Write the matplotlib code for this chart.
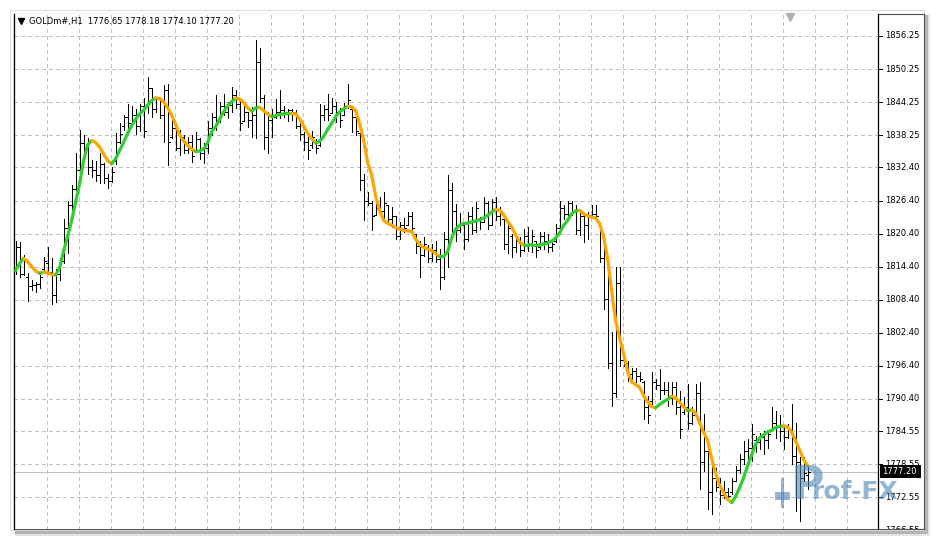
import numpy as np
import matplotlib
matplotlib.use("Agg")
import matplotlib.pyplot as plt
from matplotlib.collections import LineCollection
from matplotlib.patches import Rectangle

# Datos del gráfico (GOLDm#, H1)
titulo = "GOLDm#,H1  1776.65 1778.18 1774.10 1777.20"

aperturas = [
    1814.0, 1818.0, 1813.0, 1812.5, 1810.8, 1811.0, 1811.3, 1814.0, 1815.0, 1813.5,
    1809.2, 1813.0, 1815.5, 1821.5, 1825.5, 1828.5, 1831.9, 1836.8, 1836.0, 1832.5,
    1832.0, 1831.0, 1833.0, 1830.5, 1830.0, 1833.5, 1837.0, 1840.0, 1841.5, 1840.5,
    1842.0, 1840.0, 1843.5, 1844.0, 1846.8, 1843.0, 1844.8, 1842.0, 1846.5, 1838.0,
    1839.5, 1836.0, 1838.0, 1835.5, 1837.0, 1835.5, 1837.5, 1835.0, 1836.0, 1839.5,
    1841.5, 1840.8, 1843.5, 1842.5, 1843.8, 1845.5, 1844.0, 1840.8, 1842.5, 1841.0,
    1842.0, 1851.6, 1845.0, 1838.0, 1841.0, 1841.5, 1842.5, 1842.8, 1842.5, 1842.8,
    1842.5, 1840.0, 1838.5, 1837.0, 1836.5, 1837.0, 1836.5, 1842.0, 1843.0, 1842.2,
    1843.5, 1842.5, 1841.9, 1843.5, 1843.0, 1841.5, 1838.6, 1830.1, 1826.4, 1826.0,
    1823.7, 1825.0, 1824.5, 1825.5, 1823.0, 1823.5, 1820.0, 1822.0, 1822.0, 1823.5,
    1820.4, 1818.2, 1816.5, 1818.0, 1816.0, 1817.5, 1815.8, 1812.5, 1819.5, 1828.3,
    1824.5, 1821.0, 1822.0, 1819.5, 1823.5, 1821.0, 1823.0, 1822.5, 1826.0, 1822.0,
    1826.2, 1823.5, 1823.0, 1818.5, 1820.0, 1818.0, 1819.0, 1817.5, 1820.0, 1818.5,
    1819.1, 1818.0, 1820.0, 1819.0, 1818.0, 1819.0, 1821.5, 1825.0, 1824.0, 1826.0,
    1824.5, 1821.0, 1823.5, 1822.0, 1823.8, 1824.0, 1822.5, 1816.0, 1808.5, 1797.0,
    1791.5, 1811.5, 1797.5, 1797.0, 1795.0, 1795.5, 1794.5, 1793.5, 1789.0, 1790.0,
    1793.5, 1793.0, 1792.0, 1792.0, 1790.5, 1792.5, 1789.0, 1788.0, 1789.0, 1786.0,
    1788.0, 1791.5, 1779.0, 1781.0, 1773.5, 1776.0, 1774.5, 1773.0, 1773.5, 1773.5,
    1775.5, 1777.5, 1779.5, 1781.0, 1781.5, 1783.0, 1782.5, 1783.5, 1783.0, 1785.0,
    1786.0, 1785.5, 1784.5, 1783.5, 1785.0, 1780.0, 1779.0, 1776.0, 1776.65,
]
maximos = [
    1819.0, 1818.8, 1816.5, 1813.2, 1812.0, 1811.6, 1813.3, 1816.1, 1817.9, 1815.9,
    1814.0, 1816.0, 1823.1, 1826.4, 1829.2, 1835.0, 1839.2, 1838.2, 1837.7, 1833.7,
    1833.5, 1835.0, 1833.2, 1831.3, 1832.5, 1838.6, 1840.4, 1841.9, 1844.0, 1843.5,
    1843.0, 1844.0, 1845.0, 1848.9, 1846.8, 1845.1, 1844.8, 1847.3, 1847.6, 1841.0,
    1839.8, 1839.2, 1838.2, 1838.0, 1838.3, 1838.9, 1837.7, 1836.8, 1840.9, 1842.2,
    1845.5, 1844.3, 1845.8, 1844.3, 1847.0, 1846.4, 1844.9, 1843.5, 1842.5, 1843.4,
    1855.5, 1854.1, 1845.5, 1842.5, 1843.0, 1844.9, 1846.4, 1843.5, 1843.0, 1843.0,
    1842.8, 1840.4, 1838.9, 1838.6, 1839.0, 1837.6, 1844.0, 1843.7, 1845.8, 1845.0,
    1844.3, 1843.2, 1844.1, 1847.5, 1843.4, 1842.5, 1838.6, 1831.3, 1827.9, 1826.4,
    1826.4, 1827.0, 1827.9, 1825.5, 1825.2, 1823.6, 1822.5, 1823.2, 1824.4, 1824.3,
    1820.4, 1819.1, 1819.7, 1818.3, 1818.6, 1819.1, 1817.6, 1820.7, 1831.0, 1829.5,
    1825.8, 1824.1, 1822.5, 1824.3, 1825.2, 1826.1, 1823.4, 1827.0, 1826.4, 1826.7,
    1827.0, 1825.2, 1823.1, 1822.5, 1820.4, 1820.1, 1819.7, 1821.3, 1821.6, 1821.0,
    1819.1, 1820.7, 1820.7, 1820.4, 1819.5, 1822.2, 1826.4, 1825.5, 1826.4, 1826.4,
    1825.5, 1824.3, 1824.0, 1824.3, 1825.5, 1825.5, 1822.5, 1818.9, 1814.3, 1802.5,
    1814.3, 1814.3, 1797.7, 1797.3, 1796.1, 1796.1, 1795.2, 1793.7, 1791.0, 1795.2,
    1794.0, 1795.8, 1793.4, 1793.4, 1793.4, 1793.4, 1791.9, 1790.7, 1793.1, 1788.9,
    1793.1, 1793.4, 1787.6, 1782.8, 1779.2, 1777.9, 1776.1, 1775.5, 1774.3, 1776.1,
    1778.3, 1780.4, 1782.8, 1783.1, 1785.8, 1783.7, 1784.3, 1784.6, 1784.6, 1788.9,
    1788.3, 1787.4, 1785.5, 1785.8, 1789.5, 1786.1, 1779.8, 1779.8, 1778.18,
]
minimos = [
    1813.0, 1812.5, 1812.8, 1808.2, 1810.2, 1809.8, 1810.5, 1813.7, 1813.1, 1807.7,
    1808.0, 1812.0, 1815.0, 1816.8, 1822.8, 1828.3, 1831.9, 1834.3, 1831.3, 1830.6,
    1830.0, 1829.5, 1829.5, 1828.6, 1829.8, 1833.1, 1836.8, 1839.2, 1838.5, 1840.0,
    1838.5, 1839.0, 1838.0, 1842.2, 1841.6, 1842.4, 1841.3, 1837.0, 1832.8, 1837.7,
    1835.5, 1834.6, 1835.0, 1835.0, 1833.4, 1835.2, 1834.0, 1833.2, 1835.0, 1838.3,
    1839.2, 1840.7, 1841.9, 1841.3, 1842.5, 1843.2, 1839.2, 1840.8, 1839.8, 1838.0,
    1837.7, 1844.3, 1835.8, 1835.0, 1838.0, 1841.3, 1841.3, 1841.5, 1840.8, 1841.0,
    1839.5, 1837.3, 1835.5, 1834.0, 1836.0, 1835.1, 1836.2, 1841.0, 1841.0, 1842.2,
    1840.7, 1839.8, 1841.9, 1843.1, 1838.9, 1838.3, 1828.3, 1822.8, 1825.5, 1821.0,
    1823.7, 1824.3, 1822.8, 1822.5, 1821.6, 1819.5, 1819.5, 1820.7, 1821.9, 1820.4,
    1816.8, 1812.5, 1816.4, 1815.2, 1815.5, 1815.2, 1810.4, 1812.2, 1814.3, 1820.4,
    1819.1, 1820.7, 1817.6, 1819.1, 1820.4, 1820.7, 1821.3, 1822.5, 1821.3, 1822.0,
    1822.8, 1821.9, 1817.6, 1816.8, 1816.1, 1817.1, 1816.4, 1817.3, 1817.3, 1817.0,
    1816.1, 1817.6, 1817.6, 1817.1, 1817.3, 1818.9, 1820.7, 1823.1, 1823.4, 1823.7,
    1820.4, 1820.1, 1818.9, 1819.5, 1823.4, 1823.0, 1815.2, 1806.8, 1796.1, 1789.2,
    1790.7, 1796.4, 1796.4, 1793.7, 1794.0, 1793.4, 1793.7, 1786.8, 1786.1, 1789.5,
    1792.2, 1790.4, 1791.3, 1789.2, 1789.5, 1787.6, 1783.4, 1787.6, 1784.9, 1785.8,
    1787.6, 1774.0, 1777.3, 1770.4, 1769.5, 1773.7, 1771.3, 1772.5, 1772.5, 1773.1,
    1775.5, 1776.9, 1778.6, 1779.2, 1779.2, 1780.7, 1781.3, 1780.4, 1781.5, 1784.9,
    1783.4, 1782.8, 1781.3, 1783.4, 1778.6, 1770.1, 1768.3, 1775.5, 1774.10,
]
cierres = [
    1818.0, 1813.0, 1815.8, 1810.8, 1811.0, 1811.3, 1812.5, 1815.5, 1813.5, 1809.2,
    1813.0, 1815.5, 1821.5, 1825.5, 1828.5, 1831.9, 1836.8, 1836.0, 1832.5, 1832.0,
    1831.0, 1833.0, 1830.5, 1830.0, 1831.5, 1837.0, 1838.5, 1841.5, 1840.5, 1842.0,
    1840.0, 1843.5, 1839.0, 1846.8, 1843.0, 1844.8, 1842.0, 1846.5, 1837.0, 1839.5,
    1836.0, 1838.0, 1835.5, 1837.0, 1834.5, 1837.5, 1835.0, 1836.0, 1839.5, 1841.5,
    1840.5, 1843.5, 1842.5, 1843.8, 1845.5, 1844.0, 1840.5, 1842.5, 1841.0, 1842.0,
    1851.6, 1845.0, 1838.0, 1841.0, 1841.5, 1842.5, 1842.8, 1842.5, 1842.8, 1842.5,
    1840.0, 1838.5, 1837.0, 1835.5, 1838.0, 1836.0, 1842.0, 1843.0, 1842.0, 1843.5,
    1842.5, 1841.0, 1843.5, 1844.6, 1841.5, 1839.0, 1830.1, 1826.4, 1826.0, 1823.5,
    1825.0, 1824.5, 1826.0, 1823.0, 1823.5, 1820.0, 1822.0, 1821.5, 1823.5, 1821.5,
    1818.2, 1816.5, 1818.5, 1816.0, 1817.5, 1815.8, 1812.5, 1819.5, 1828.3, 1824.5,
    1821.0, 1822.0, 1819.5, 1823.5, 1821.0, 1825.0, 1822.5, 1826.0, 1822.0, 1826.2,
    1823.5, 1824.5, 1818.5, 1821.5, 1818.0, 1819.0, 1817.5, 1820.0, 1818.5, 1820.0,
    1817.5, 1820.0, 1819.0, 1818.0, 1818.5, 1821.5, 1825.0, 1824.0, 1826.0, 1824.5,
    1821.0, 1823.5, 1822.0, 1823.8, 1824.0, 1823.5, 1816.0, 1808.5, 1797.0, 1791.5,
    1811.5, 1797.5, 1797.0, 1795.0, 1795.5, 1794.5, 1794.0, 1789.0, 1787.5, 1793.5,
    1793.0, 1792.0, 1792.0, 1790.5, 1792.5, 1789.0, 1785.0, 1789.0, 1786.0, 1787.5,
    1791.5, 1779.0, 1781.0, 1773.5, 1776.0, 1774.5, 1773.0, 1773.5, 1772.8, 1775.5,
    1777.5, 1779.5, 1781.0, 1781.5, 1784.0, 1782.5, 1783.5, 1783.0, 1784.0, 1786.0,
    1785.5, 1784.5, 1783.5, 1785.0, 1780.0, 1779.0, 1776.0, 1777.0, 1777.20,
]

# Línea suavizada (verde subiendo, naranja bajando)
linea_suave = [
    1813.7, 1815.0, 1815.9, 1815.3, 1814.4, 1813.6, 1813.2, 1813.4, 1813.3, 1813.0,
    1812.9, 1814.2, 1817.3, 1819.9, 1822.8, 1826.2, 1829.5, 1833.7, 1836.5, 1837.3,
    1836.9, 1836.1, 1834.8, 1833.6, 1833.1, 1834.0, 1835.5, 1837.0, 1838.6, 1840.0,
    1841.2, 1842.1, 1842.8, 1843.7, 1844.5, 1845.0, 1844.9, 1844.3, 1843.2, 1841.9,
    1840.2, 1838.3, 1837.2, 1836.4, 1835.7, 1835.3, 1835.4, 1835.8, 1836.9, 1838.9,
    1839.8, 1841.2, 1842.5, 1843.6, 1844.3, 1845.0, 1844.8, 1844.2, 1843.2, 1842.6,
    1843.2, 1843.3, 1842.7, 1842.1, 1841.6, 1841.8, 1842.0, 1842.1, 1842.2, 1842.2,
    1842.1, 1841.2, 1839.9, 1838.6, 1837.6, 1836.8, 1837.2, 1838.0, 1839.3, 1840.4,
    1841.6, 1842.5, 1843.0, 1843.5, 1843.4, 1842.7, 1840.3, 1837.4, 1833.3, 1831.0,
    1827.2, 1824.6, 1822.8, 1822.3, 1821.9, 1821.5, 1821.2, 1821.0, 1820.9, 1820.8,
    1819.4, 1818.4, 1817.9, 1817.6, 1817.3, 1816.8, 1816.2, 1816.3, 1817.1, 1819.6,
    1821.2, 1821.9, 1822.2, 1822.3, 1822.5, 1822.7, 1822.9, 1823.2, 1823.7, 1824.3,
    1824.8, 1824.6, 1823.8, 1822.6, 1821.6, 1820.2, 1818.8, 1818.3, 1818.3, 1818.4,
    1818.4, 1818.4, 1818.5, 1818.7, 1819.0, 1819.6, 1820.5, 1821.9, 1822.8, 1824.0,
    1824.5, 1824.6, 1824.0, 1823.6, 1823.4, 1823.2, 1822.2, 1819.8, 1815.8, 1810.0,
    1804.6, 1801.5, 1798.6, 1795.4, 1793.5, 1793.0, 1792.5, 1791.0, 1789.9, 1789.0,
    1788.8, 1789.4, 1789.9, 1790.3, 1790.9, 1790.6, 1789.8, 1789.0, 1788.3, 1788.4,
    1787.8, 1786.1, 1784.3, 1782.9, 1779.6, 1776.9, 1774.7, 1773.4, 1772.2, 1771.6,
    1772.7, 1774.3, 1776.1, 1778.3, 1780.2, 1782.2, 1783.3, 1783.9, 1784.4, 1784.7,
    1785.2, 1785.4, 1785.5, 1785.3, 1784.4, 1782.8, 1781.1, 1779.4, 1778.25,
]

niveles_precio = [1856.25, 1850.25, 1844.25, 1838.25, 1832.40, 1826.40, 1820.40, 1814.40,
                  1808.40, 1802.40, 1796.40, 1790.40, 1784.55, 1778.55, 1772.55, 1766.55]
etiquetas_precio = ["1856.25", "1850.25", "1844.25", "1838.25", "1832.40", "1826.40",
                    "1820.40", "1814.40", "1808.40", "1802.40", "1796.40", "1790.40",
                    "1784.55", "1778.55", "1772.55", "1766.55"]
precio_actual = 1777.20
etiqueta_actual = "1777.20"
marca_agua = "rof-FX"

# Tamaño en píxeles y utilidades
W, H = 937, 541
def rect_fig(x0, y0, x1, y1):
    return [x0 / W, 1 - y1 / H, (x1 - x0) / W, (y1 - y0) / H]

Y_MIN, Y_MAX = 1766.80, 1860.24
X_MIN, X_MAX = -0.425, 215.6
GROSOR = 0.7  # ~1 px

plt.rcParams['font.family'] = 'DejaVu Sans'
plt.rcParams['font.size'] = 6

fig = plt.figure(figsize=(W / 100, H / 100), dpi=100)
fig.patch.set_facecolor('white')

# Sombra y marco de la ventana
for (x0, y0, x1, y1, c) in [(15, 15, 930, 536, '#e4e4e4'), (15, 15, 928, 534, '#b4b4b4'),
                            (10, 10, 925, 531, '#dcdcdc')]:
    r = rect_fig(x0, y0, x1, y1)
    fig.add_artist(Rectangle((r[0], r[1]), r[2], r[3], transform=fig.transFigure,
                             facecolor=c, edgecolor='none', zorder=-5))
r = rect_fig(11, 11, 924, 530)
fig.add_artist(Rectangle((r[0], r[1]), r[2], r[3], transform=fig.transFigure,
                         facecolor='white', edgecolor='none', zorder=-4))

# Eje del marco (escala de precios a la derecha)
fa = fig.add_axes(rect_fig(14, 14, 924, 529))
fa.set_xlim(0, 910)
fa.set_ylim(Y_MIN, Y_MAX)
fa.set_xticks([])
fa.set_yticks([])
for s in fa.spines.values():
    s.set_color('#505050')
    s.set_linewidth(0.8)

for v, lab in zip(niveles_precio, etiquetas_precio):
    t = fa.text(871, v, lab, va='center', ha='left', fontsize=6, color='black')
    t.set_clip_on(True)
    t.set_clip_box(fa.bbox)
fa.hlines(niveles_precio, 864, 868, colors='black', linewidth=GROSOR, antialiased=False)

fa.add_patch(Rectangle((866, precio_actual - 1.2), 41, 2.4, facecolor='black',
                       edgecolor='none', zorder=5))
fa.text(868.5, precio_actual, etiqueta_actual, va='center', ha='left', fontsize=6,
        color='white', zorder=6)

# Eje principal del gráfico
ax = fig.add_axes(rect_fig(14, 14, 878, 529))
ax.set_xlim(X_MIN, X_MAX)
ax.set_ylim(Y_MIN, Y_MAX)
ax.set_facecolor('white')
ax.set_xticks([])
ax.set_yticks([])
ax.spines['top'].set_visible(False)
ax.spines['bottom'].set_visible(False)
ax.spines['left'].set_color('black')
ax.spines['right'].set_color('black')
ax.spines['left'].set_linewidth(0.9)
ax.spines['right'].set_linewidth(0.9)

# Rejilla punteada
for v in niveles_precio:
    ax.axhline(v, color='#c0c0c0', linewidth=GROSOR, linestyle=(0, (3.1, 3.1)),
               antialiased=False, zorder=0.5)
for gx in np.arange(7.9, X_MAX, 8):
    ax.axvline(gx, color='#c0c0c0', linewidth=GROSOR, linestyle=(0, (3.1, 3.1)),
               antialiased=False, zorder=0.5)

ax.axhline(precio_actual, color='#c0c0c0', linewidth=GROSOR, antialiased=False, zorder=0.8)

# Barras OHLC
x = np.arange(len(cierres))
ax.vlines(x, minimos, maximos, colors='black', linewidth=GROSOR, antialiased=False, zorder=2)
ax.hlines(aperturas, x - 0.5, x, colors='black', linewidth=GROSOR, antialiased=False, zorder=2)
ax.hlines(cierres, x, x + 0.5, colors='black', linewidth=GROSOR, antialiased=False, zorder=2)

# Línea suavizada coloreada por pendiente
y = np.array(linea_suave)
puntos = np.column_stack([x, y]).reshape(-1, 1, 2)
segmentos = np.concatenate([puntos[:-1], puntos[1:]], axis=1)
colores = ['#32cd32' if y[i + 1] >= y[i] else '#ffa500' for i in range(len(y) - 1)]
lc = LineCollection(segmentos, colors=colores, linewidths=2.3, capstyle='round', zorder=3)
ax.add_collection(lc)

# Título y marcadores
ax.plot([(21 - 14) / 864], [1 - (21 - 14) / 515], marker='v', markersize=4, color='black',
        transform=ax.transAxes, clip_on=False, zorder=6)
ax.text((29 - 14) / 864, 1 - (21 - 14) / 515, titulo, transform=ax.transAxes,
        va='center', ha='left', fontsize=6, color='black', zorder=6)
ax.plot([(790 - 14) / 864], [1 - (17 - 14) / 515], marker='v', markersize=6, color='#b0b0b0',
        transform=ax.transAxes, clip_on=False, zorder=6)

# Marca de agua
azul = '#4f86b6'
for (x0, y0, x1, y1) in [(775, 492, 790, 500), (781, 478, 784, 508)]:
    r = rect_fig(x0, y0, x1, y1)
    fig.add_artist(Rectangle((r[0], r[1]), r[2], r[3], transform=fig.transFigure,
                             facecolor=azul, edgecolor='none', alpha=0.6, zorder=10))
fig.text(791 / W, 1 - 499 / H, "P", fontsize=33, fontweight='bold', color=azul,
         alpha=0.6, ha='left', va='baseline', zorder=10)
fig.text(812 / W, 1 - 499 / H, marca_agua, fontsize=18, fontweight='bold', color=azul,
         alpha=0.6, ha='left', va='baseline', zorder=10)

fig.savefig('out.png', dpi=100)
